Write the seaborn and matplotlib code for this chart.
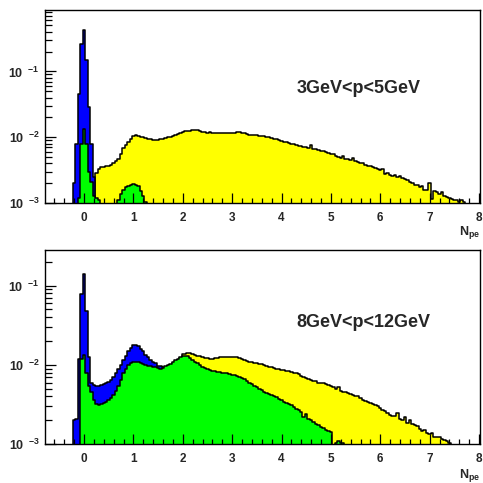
import numpy as np
import pandas as pd
import matplotlib
matplotlib.use("Agg")
import matplotlib.pyplot as plt
import seaborn as sns
from matplotlib.ticker import (FixedLocator, FixedFormatter, LogLocator,
                               MultipleLocator, NullFormatter)

# ---------------- data (bin width 0.05, values in units of 1e-3) ----------------
BIN_WIDTH = 0.05
UNIT = 1e-3

# Panel 1 : 3GeV<p<5GeV
top_label = "3GeV<p<5GeV"
top_yellow_start = 0.25
top_yellow = [2.9, 3.3, 3.5, 3.5, 3.6, 3.7, 3.8, 4.0, 4.3, 4.7,
              5.5, 6.8, 7.6, 8.4, 9.3, 10.5, 10.7, 10.5, 10.2, 10.0,
              9.8, 9.5, 9.3, 9.2, 9.1, 9.1, 9.3, 9.5, 9.8, 10.0,
              10.2, 10.6, 11.0, 11.3, 11.6, 12.0, 12.3, 12.5, 12.6, 13.0,
              12.9, 12.7, 12.5, 12.2, 12.0, 11.8, 11.9, 11.7, 11.8, 11.5,
              11.4, 11.6, 11.8, 11.7, 11.5, 11.6, 11.7, 11.9, 12.0, 11.8,
              11.5, 11.3, 11.0, 10.8, 10.9, 10.7, 10.6, 10.6, 10.3, 10.1,
              10.0, 9.7, 9.5, 9.3, 9.0, 8.8, 8.6, 8.4, 8.3, 8.0,
              7.8, 7.7, 7.4, 7.3, 7.1, 7.0, 6.9, 7.6, 6.7, 6.6,
              6.4, 6.2, 6.1, 5.9, 5.8, 5.6, 5.5, 5.2, 5.0, 4.9,
              5.1, 4.6, 4.7, 4.5, 4.9, 4.3, 4.2, 4.1, 4.0, 3.8,
              3.7, 3.6, 3.5, 3.4, 3.3, 3.2, 3.3, 2.8, 2.9, 2.7,
              2.6, 2.7, 2.5, 2.6, 2.4, 2.3, 2.2, 2.1, 2.0, 1.9,
              1.85, 1.75, 1.8, 1.6, 1.6, 2.0, 1.15, 1.5, 1.45, 1.35,
              1.45, 1.3, 1.25, 1.2, 1.15, 1.1, 1.1, 1.05, 1.1, 1.03]
top_blue_start = -0.20
top_blue = [2.0, 8.0, 46.0, 260.0, 430.0, 150.0, 29.0, 8.0, 2.5]
top_green_start = -0.10
top_green = [1.2, 8.0, 13.5, 8.0, 3.0, 2.1, 1.3, 1.2, 1.1,
             0, 0, 0, 0, 0, 0, 0,
             1.1, 1.35, 1.6, 1.75, 1.8, 1.9, 1.95, 1.9, 1.8, 1.5, 1.3, 1.05]

# Panel 2 : 8GeV<p<12GeV
bot_label = "8GeV<p<12GeV"
bot_yellow_start = 1.50
bot_yellow = [8.5, 8.5, 8.8, 9.2, 9.6, 10.0, 10.5, 11.0, 11.6, 12.3,
              13.6, 13.8, 14.0, 14.1, 13.9, 13.5, 13.1, 12.8, 12.5, 12.3,
              12.1, 11.9, 12.0, 12.2, 12.3, 12.4, 12.4, 12.5, 12.4, 12.5,
              12.6, 12.6, 12.5, 12.3, 12.0, 11.6, 11.2, 11.0, 10.8, 10.6,
              10.5, 10.4, 10.2, 10.1, 9.8, 9.5, 9.4, 9.1, 9.0, 8.9,
              8.7, 8.6, 8.4, 8.3, 8.1, 8.0, 7.8, 7.6, 7.2, 7.1,
              6.8, 6.6, 6.4, 6.3, 6.2, 6.0, 5.9, 5.9, 5.7, 5.6,
              5.4, 5.2, 4.9, 5.2, 4.7, 4.6, 4.5, 4.4, 4.3, 4.2,
              4.1, 4.0, 3.8, 3.6, 3.5, 3.4, 3.3, 3.2, 3.1, 3.0,
              2.85, 2.7, 2.6, 2.45, 2.35, 2.3, 2.25, 2.5, 2.1, 2.0,
              2.2, 1.85, 2.0, 1.8, 1.75, 1.7, 1.55, 1.45, 1.5, 1.4,
              1.35, 1.38, 1.25, 1.22, 1.25, 1.15, 1.12, 1.1, 1.05]
bot_blue_start = -0.20
bot_blue = [2.0, 2.1, 12.0, 79.0, 139.0, 48.0, 12.7, 5.9, 5.6, 5.5,
            5.5, 5.6, 5.7, 5.9, 6.1, 6.4, 7.0, 7.8, 8.8, 10.0,
            11.5, 13.0, 15.0, 16.5, 17.8, 18.0, 17.2, 16.0, 15.0, 13.5,
            12.5, 11.6, 11.0, 10.5, 9.8, 9.6, 9.5, 9.4, 9.0]
bot_green_start = -0.05
bot_green = [12.0, 13.4, 8.0, 5.5, 4.5, 3.6, 3.2, 3.1, 3.2, 3.3, 3.4,
             3.6, 3.8, 4.2, 4.7, 5.5, 6.5, 7.8, 9.0, 10.0, 10.5,
             10.8, 11.0, 10.8, 10.5, 10.3, 10.0, 9.8, 9.6, 9.5, 9.3,
             9.2, 9.0, 9.2, 9.6, 10.0, 10.4, 10.9, 11.5, 12.0, 12.5,
             12.9, 13.1, 12.8, 12.2, 11.6, 11.0, 10.5, 10.0, 9.5, 9.2,
             8.9, 8.7, 8.5, 8.3, 8.2, 8.1, 8.0, 7.9, 7.8, 7.6,
             7.5, 7.4, 7.3, 7.0, 6.8, 6.6, 6.3, 6.0, 5.8, 5.5,
             5.2, 5.0, 4.8, 4.6, 4.4, 4.25, 4.15, 4.0, 3.9, 3.75,
             3.6, 3.45, 3.3, 3.2, 3.1, 2.95, 2.8, 2.7, 2.55, 2.2,
             2.4, 2.1, 2.0, 1.9, 1.8, 1.75, 1.65, 1.6, 1.52, 1.45,
             1.42, 0.5, 1.05, 1.1, 1.05, 1.03, 0.5]

x_tick_labels = ["0", "1", "2", "3", "4", "5", "6", "7", "8"]
y_decades = [1e-3, 1e-2, 1e-1]
y_tick_labels = [r"$\mathbf{10}^{\ \ \mathbf{-3}}$", r"$\mathbf{10}^{\ \ \mathbf{-2}}$",
                 r"$\mathbf{10}^{\ \ \mathbf{-1}}$"]

YELLOW = "#ffff00"
BLUE = "#0000ff"
GREEN = "#00ff00"

# ---------------- style ----------------
sns.set_style("ticks")
plt.rcParams["font.family"] = ["Liberation Sans", "DejaVu Sans"]
plt.rcParams["font.weight"] = "bold"
plt.rcParams["mathtext.fontset"] = "custom"
plt.rcParams["mathtext.rm"] = "Liberation Sans"
plt.rcParams["mathtext.bf"] = "Liberation Sans:bold"
plt.rcParams["mathtext.it"] = "Liberation Sans:italic"


def draw_hist(ax, start, values, color):
    vals = np.asarray(values, float) * UNIT
    n = len(vals)
    centers = start + BIN_WIDTH * np.arange(n)
    edges = (start - BIN_WIDTH / 2 + BIN_WIDTH * np.arange(n + 1)).tolist()
    df = pd.DataFrame({"npe": centers, "w": vals})
    sns.histplot(data=df, x="npe", weights="w", bins=edges, element="step",
                 fill=True, color=color, alpha=1, edgecolor="black",
                 linewidth=1.1, ax=ax)


def style_axes(ax, ymax):
    ax.set_yscale("log")
    ax.set_xlim(-0.79, 8.02)
    ax.set_ylim(1e-3, ymax)
    ax.xaxis.set_major_locator(FixedLocator(list(range(len(x_tick_labels)))))
    ax.xaxis.set_major_formatter(FixedFormatter(x_tick_labels))
    ax.xaxis.set_minor_locator(MultipleLocator(0.2))
    ax.yaxis.set_major_locator(FixedLocator(y_decades))
    ax.yaxis.set_major_formatter(FixedFormatter(y_tick_labels))
    ax.yaxis.set_minor_locator(LogLocator(base=10, subs=np.arange(2, 10)))
    ax.yaxis.set_minor_formatter(NullFormatter())
    ax.tick_params(which="both", direction="in", top=False, right=False,
                   color="black", width=0.9)
    ax.tick_params(axis="x", which="major", length=7, pad=6.3, labelsize=8.5)
    ax.tick_params(axis="x", which="minor", length=3.5)
    ax.tick_params(axis="y", which="major", length=8, pad=4, labelsize=9)
    ax.tick_params(axis="y", which="minor", length=5)
    for s in ax.spines.values():
        s.set_visible(True)
        s.set_color("black")
        s.set_linewidth(1.0)
    ax.set_ylabel("")
    ax.set_xlabel(r"$\mathbf{N}_{\mathbf{pe}}$", fontsize=9)
    ax.xaxis.label.set_horizontalalignment("right")
    ax.xaxis.label.set_verticalalignment("baseline")
    ax.set_axisbelow(False)


fig = plt.figure(figsize=(4.83, 4.83), dpi=100)
fig.patch.set_facecolor("white")
ax_top = fig.add_axes([45 / 483, 1 - 203 / 483, 435 / 483, 193 / 483])
ax_bot = fig.add_axes([45 / 483, 1 - 444.3 / 483, 435 / 483, 194.3 / 483])

for ax, ys, yv, bs, bv, gs, gv in [
        (ax_top, top_yellow_start, top_yellow, top_blue_start, top_blue, top_green_start, top_green),
        (ax_bot, bot_yellow_start, bot_yellow, bot_blue_start, bot_blue, bot_green_start, bot_green)]:
    draw_hist(ax, ys, yv, YELLOW)
    draw_hist(ax, bs, bv, BLUE)
    draw_hist(ax, gs, gv, GREEN)

style_axes(ax_top, 0.86)
style_axes(ax_bot, 0.28)
ax_top.xaxis.set_label_coords(1.0, -0.166)
ax_bot.xaxis.set_label_coords(1.0, -0.175)

ax_top.text(0.579, 0.568, top_label, transform=ax_top.transAxes,
            fontsize=13, fontweight="bold", ha="left", va="baseline")
ax_bot.text(0.577, 0.603, bot_label, transform=ax_bot.transAxes,
            fontsize=13, fontweight="bold", ha="left", va="baseline")

fig.savefig("out.png", dpi=100)
